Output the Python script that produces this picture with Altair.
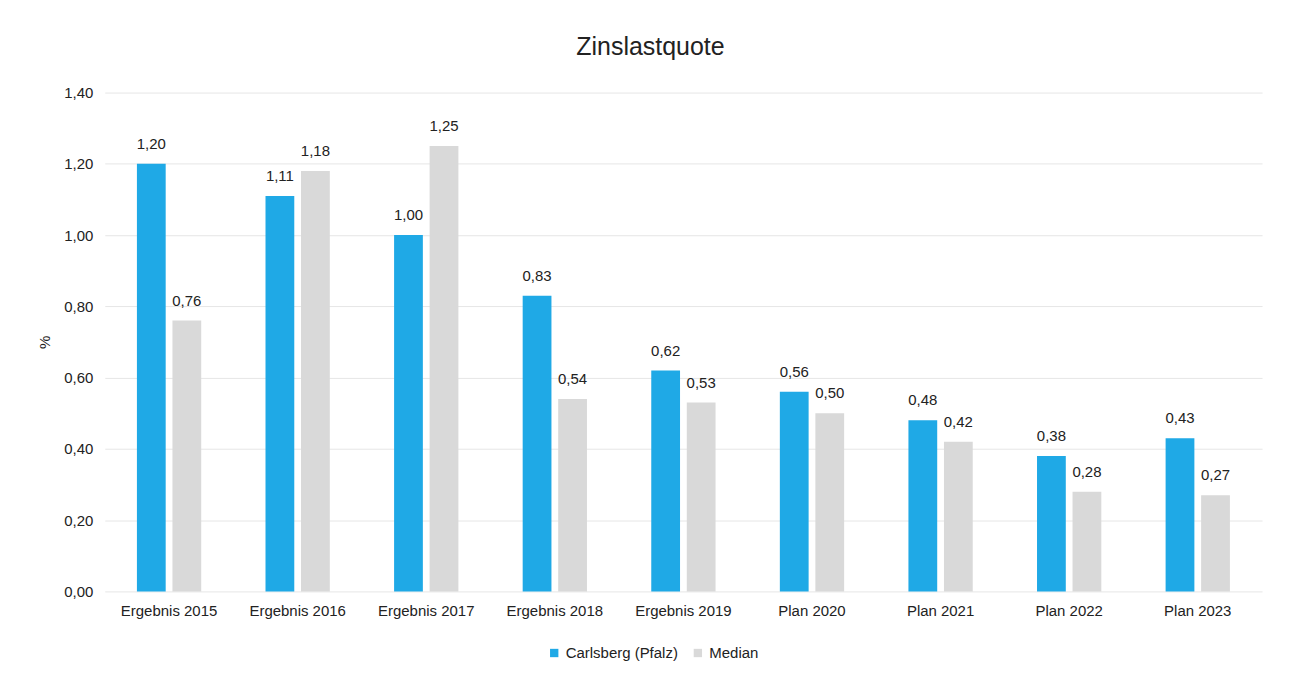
import altair as alt
import pandas as pd

categories = ["Ergebnis 2015", "Ergebnis 2016", "Ergebnis 2017", "Ergebnis 2018",
              "Ergebnis 2019", "Plan 2020", "Plan 2021", "Plan 2022", "Plan 2023"]
carlsberg = [1.20, 1.11, 1.00, 0.83, 0.62, 0.56, 0.48, 0.38, 0.43]
median = [0.76, 1.18, 1.25, 0.54, 0.53, 0.50, 0.42, 0.28, 0.27]
series = ["Carlsberg (Pfalz)", "Median"]
colors = ["#1FA9E6", "#D9D9D9"]

rows = []
for i, c in enumerate(categories):
    for s, vals in zip(series, [carlsberg, median]):
        v = vals[i]
        rows.append({"Kategorie": c, "Reihe": s, "Wert": v,
                     "Label": f"{v:.2f}".replace(".", ",")})
df = pd.DataFrame(rows)

FONT = "Liberation Sans"
FS = 15

x = alt.X("Kategorie:N", sort=categories, title=None,
          scale=alt.Scale(paddingInner=0.5, paddingOuter=0.25),
          axis=alt.Axis(labelAngle=0, labelFontSize=FS, labelColor="#222222",
                        labelPadding=12, ticks=False, domain=False, labelFont=FONT))
xo = alt.XOffset("Reihe:N", sort=series, scale=alt.Scale(paddingInner=0.19))
y = alt.Y("Wert:Q", title="%",
          scale=alt.Scale(domain=[0, 1.4], nice=False),
          axis=alt.Axis(values=[0, 0.2, 0.4, 0.6, 0.8, 1.0, 1.2, 1.4],
                        labelExpr="replace(format(datum.value, '.2f'), '.', ',')",
                        labelFontSize=FS, labelColor="#222222", labelPadding=12,
                        ticks=False, domain=False, gridColor="#E6E6E6",
                        titleFontSize=FS, titleFontWeight="normal", titleColor="#222222",
                        titleX=-52, titleY=250, titleFont=FONT, labelFont=FONT))

color = alt.Color("Reihe:N", sort=series,
                  scale=alt.Scale(domain=series, range=colors),
                  legend=alt.Legend(title=None, orient="none", direction="horizontal",
                                    legendX=443, legendY=554,
                                    symbolType="square", symbolSize=70, labelFontSize=FS,
                                    labelColor="#222222", columnPadding=12,
                                    labelFont=FONT, symbolStrokeWidth=0))

base = alt.Chart(df)
bars = base.mark_bar().encode(x=x, xOffset=xo, y=y, color=color)
texts = base.mark_text(baseline="bottom", dy=-12, fontSize=FS, color="#222222", font=FONT).encode(
    x=x, xOffset=xo, y=y, text="Label:N")

chart = alt.layer(bars, texts).properties(
    width=1160, height=500,
    title=alt.TitleParams("Zinslastquote", fontSize=25, font=FONT, fontWeight="normal",
                          color="#222222", offset=26, dx=-33),
    autosize=alt.AutoSizeParams(type="none"),
    padding={"left": 97, "top": 84, "right": 20, "bottom": 70},
    background="white",
).configure_view(stroke=None)

chart.save("out.html", embed_options={"renderer": "svg", "actions": False})
